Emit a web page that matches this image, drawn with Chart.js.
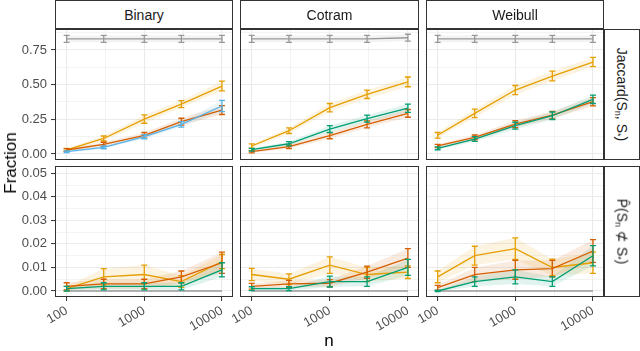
<!DOCTYPE html>
<html>
<head>
<meta charset="utf-8">
<script src="https://cdn.jsdelivr.net/npm/chart.js@4.4.1/dist/chart.umd.min.js"></script>
<style>
  body { margin: 0; background: #fff; }
  #wrap { position: relative; width: 640px; height: 351px; overflow: hidden; font-family: "Liberation Sans", Arial, sans-serif; }
  #wrap canvas { position: absolute; left: 0; top: 0; }
  .strip { position: absolute; box-sizing: border-box; border: 1px solid #333; background: #fff; color: #1a1a1a; font-size: 14px; display: flex; align-items: center; justify-content: center; white-space: nowrap; }
  .strip.side span { transform: rotate(90deg); display: inline-block; }
  .strip sub { font-size: 9px; vertical-align: -2px; }
  .title { position: absolute; color: #000; font-size: 17px; white-space: nowrap; }
</style>
</head>
<body>
<div id="wrap">
  <div class="strip" style="left:55px;top:0;width:178px;height:29px">Binary</div>
  <div class="strip" style="left:240px;top:0;width:179px;height:29px">Cotram</div>
  <div class="strip" style="left:426px;top:0;width:178px;height:29px">Weibull</div>
  <div class="strip side" style="left:604px;top:29px;width:36px;height:131px"><span>Jaccard(S<sub>n</sub>, S<sub>*</sub>)</span></div>
  <div class="strip side" style="left:604px;top:166px;width:36px;height:131px"><span>P&#770;(S<sub>n</sub> &#8836; S<sub>*</sub>)</span></div>
  <div class="title" style="left:11px;top:163px;transform:translate(-50%,-50%) rotate(-90deg)">Fraction</div>
  <div class="title" style="left:329px;top:341px;transform:translate(-50%,-50%)">n</div>
</div>
<script>
// sample sizes and axis breaks
const nSizes = [100, 300, 1000, 3000, 10000];
const xMajorTicks = [100, 1000, 10000];
const xMinorTicks = [316.23, 3162.3];
const jaccardMajorTicks = [0, 0.25, 0.5, 0.75];
const jaccardMinorTicks = [0.125, 0.375, 0.625, 0.875];
const notSubsetMajorTicks = [0, 0.01, 0.02, 0.03, 0.04, 0.05];
const notSubsetMinorTicks = [0.005, 0.015, 0.025, 0.035, 0.045];

// Jaccard(S_n, S*) row
const binaryJaccardGrey = [0.83, 0.83, 0.83, 0.83, 0.83];
const binaryJaccardGreyErr = [0.025, 0.025, 0.025, 0.025, 0.025];
const binaryJaccardOrange = [0.03, 0.112, 0.252, 0.36, 0.49];
const binaryJaccardOrangeErr = [0.01, 0.018, 0.03, 0.025, 0.035];
const binaryJaccardVermillion = [0.029, 0.07, 0.135, 0.233, 0.317];
const binaryJaccardVermillionErr = [0.01, 0.015, 0.02, 0.025, 0.032];
const binaryJaccardBlue = [0.017, 0.048, 0.125, 0.214, 0.346];
const binaryJaccardBlueErr = [0.006, 0.01, 0.015, 0.02, 0.04];

const cotramJaccardGrey = [0.83, 0.83, 0.83, 0.83, 0.838];
const cotramJaccardGreyErr = [0.025, 0.025, 0.025, 0.025, 0.025];
const cotramJaccardOrange = [0.058, 0.168, 0.334, 0.43, 0.52];
const cotramJaccardOrangeErr = [0.015, 0.02, 0.03, 0.03, 0.035];
const cotramJaccardVermillion = [0.017, 0.053, 0.132, 0.214, 0.293];
const cotramJaccardVermillionErr = [0.008, 0.013, 0.022, 0.025, 0.028];
const cotramJaccardGreen = [0.031, 0.074, 0.18, 0.255, 0.33];
const cotramJaccardGreenErr = [0.01, 0.015, 0.025, 0.025, 0.03];

const weibullJaccardGrey = [0.83, 0.83, 0.83, 0.83, 0.83];
const weibullJaccardGreyErr = [0.025, 0.025, 0.025, 0.025, 0.025];
const weibullJaccardOrange = [0.135, 0.293, 0.461, 0.562, 0.663];
const weibullJaccardOrangeErr = [0.02, 0.03, 0.033, 0.035, 0.033];
const weibullJaccardVermillion = [0.058, 0.12, 0.216, 0.281, 0.377];
const weibullJaccardVermillionErr = [0.012, 0.017, 0.025, 0.027, 0.03];
const weibullJaccardGreen = [0.041, 0.108, 0.204, 0.276, 0.394];
const weibullJaccardGreenErr = [0.01, 0.017, 0.025, 0.027, 0.03];

// P(S_n not subset of S*) row
const binaryNotSubsetGrey = [0, 0, 0, 0, 0];
const binaryNotSubsetGreyErr = [0, 0, 0, 0, 0];
const binaryNotSubsetOrange = [0.001, 0.006, 0.007, 0.004, 0.0125];
const binaryNotSubsetOrangeErr = [0.001, 0.0035, 0.004, 0.0025, 0.003];
const binaryNotSubsetVermillion = [0.002, 0.003, 0.003, 0.006, 0.012];
const binaryNotSubsetVermillionErr = [0.0015, 0.002, 0.002, 0.0025, 0.0045];
const binaryNotSubsetGreen = [0.001, 0.002, 0.002, 0.002, 0.009];
const binaryNotSubsetGreenErr = [0.001, 0.0015, 0.0015, 0.0015, 0.003];

const cotramNotSubsetGrey = [0, 0, 0, 0, 0];
const cotramNotSubsetGreyErr = [0, 0, 0, 0, 0];
const cotramNotSubsetOrange = [0.007, 0.005, 0.011, 0.007, 0.008];
const cotramNotSubsetOrangeErr = [0.0026, 0.0023, 0.0035, 0.003, 0.0027];
const cotramNotSubsetVermillion = [0.002, 0.003, 0.0033, 0.008, 0.014];
const cotramNotSubsetVermillionErr = [0.0012, 0.0015, 0.0015, 0.0026, 0.004];
const cotramNotSubsetGreen = [0.001, 0.001, 0.004, 0.004, 0.01];
const cotramNotSubsetGreenErr = [0.0008, 0.0008, 0.0023, 0.002, 0.0034];

const weibullNotSubsetGrey = [0, 0, 0, 0, 0];
const weibullNotSubsetGreyErr = [0, 0, 0, 0, 0];
const weibullNotSubsetOrange = [0.006, 0.015, 0.018, 0.01, 0.012];
const weibullNotSubsetOrangeErr = [0.0025, 0.004, 0.0046, 0.0035, 0.0045];
const weibullNotSubsetVermillion = [0.0014, 0.007, 0.009, 0.0095, 0.017];
const weibullNotSubsetVermillionErr = [0.001, 0.003, 0.004, 0.0035, 0.0048];
const weibullNotSubsetGreen = [0, 0.004, 0.006, 0.004, 0.015];
const weibullNotSubsetGreenErr = [0.0003, 0.002, 0.003, 0.002, 0.0043];

const colours = {
  grey: [153, 153, 153],
  orange: [230, 159, 0],
  vermillion: [213, 94, 0],
  green: [0, 158, 115],
  blue: [86, 180, 233]
};

// panel boxes in page pixels
const colLeft = [55, 240, 426];
const colRight = [233, 419, 604];
const rowTop = [29, 166];
const rowBottom = [160, 297];
const yRange = [[-0.043, 0.901], [-0.00255, 0.0531]];

const panels = [
  { col: 0, row: 0, series: [['grey', binaryJaccardGrey, binaryJaccardGreyErr], ['orange', binaryJaccardOrange, binaryJaccardOrangeErr], ['vermillion', binaryJaccardVermillion, binaryJaccardVermillionErr], ['blue', binaryJaccardBlue, binaryJaccardBlueErr]] },
  { col: 1, row: 0, series: [['grey', cotramJaccardGrey, cotramJaccardGreyErr], ['orange', cotramJaccardOrange, cotramJaccardOrangeErr], ['vermillion', cotramJaccardVermillion, cotramJaccardVermillionErr], ['green', cotramJaccardGreen, cotramJaccardGreenErr]] },
  { col: 2, row: 0, series: [['grey', weibullJaccardGrey, weibullJaccardGreyErr], ['orange', weibullJaccardOrange, weibullJaccardOrangeErr], ['vermillion', weibullJaccardVermillion, weibullJaccardVermillionErr], ['green', weibullJaccardGreen, weibullJaccardGreenErr]] },
  { col: 0, row: 1, series: [['grey', binaryNotSubsetGrey, binaryNotSubsetGreyErr], ['orange', binaryNotSubsetOrange, binaryNotSubsetOrangeErr], ['vermillion', binaryNotSubsetVermillion, binaryNotSubsetVermillionErr], ['green', binaryNotSubsetGreen, binaryNotSubsetGreenErr]] },
  { col: 1, row: 1, series: [['grey', cotramNotSubsetGrey, cotramNotSubsetGreyErr], ['orange', cotramNotSubsetOrange, cotramNotSubsetOrangeErr], ['vermillion', cotramNotSubsetVermillion, cotramNotSubsetVermillionErr], ['green', cotramNotSubsetGreen, cotramNotSubsetGreenErr]] },
  { col: 2, row: 1, series: [['grey', weibullNotSubsetGrey, weibullNotSubsetGreyErr], ['orange', weibullNotSubsetOrange, weibullNotSubsetOrangeErr], ['vermillion', weibullNotSubsetVermillion, weibullNotSubsetVermillionErr], ['green', weibullNotSubsetGreen, weibullNotSubsetGreenErr]] }
];

const rgba = (c, a) => 'rgba(' + colours[c].join(',') + ',' + a + ')';

// error bars drawn right after their line, panel frame on top
const errorBarPlugin = {
  id: 'errorBars',
  afterDatasetDraw(chart, args) {
    const ds = chart.data.datasets[args.index];
    if (!ds.errors) return;
    const ctx = chart.ctx, xs = chart.scales.x, ys = chart.scales.y;
    ctx.save();
    ctx.strokeStyle = ds.borderColor;
    ctx.lineWidth = 1.3;
    ds.data.forEach((pt, i) => {
      const e = ds.errors[i];
      if (!e) return;
      const px = xs.getPixelForValue(pt.x);
      const top = ys.getPixelForValue(pt.y + e), bot = ys.getPixelForValue(pt.y - e);
      ctx.beginPath();
      ctx.moveTo(px, top); ctx.lineTo(px, bot);
      ctx.moveTo(px - 3, top); ctx.lineTo(px + 3, top);
      ctx.moveTo(px - 3, bot); ctx.lineTo(px + 3, bot);
      ctx.stroke();
    });
    ctx.restore();
  }
};
const framePlugin = {
  id: 'frame',
  afterDraw(chart) {
    const a = chart.chartArea, ctx = chart.ctx;
    ctx.save();
    ctx.strokeStyle = '#333333';
    ctx.lineWidth = 1;
    ctx.strokeRect(a.left + 0.5, a.top + 0.5, a.right - a.left - 1, a.bottom - a.top - 1);
    ctx.restore();
  }
};

const wrap = document.getElementById('wrap');
const tickFont = { family: '"Liberation Sans", Arial, sans-serif', size: 13 };

panels.forEach(p => {
  const canvas = document.createElement('canvas');
  canvas.width = 640; canvas.height = 351;
  wrap.insertBefore(canvas, wrap.firstChild);

  const yw = p.col === 0 ? 55 : 0;
  const xh = p.row === 1 ? 54 : 0;
  const majorY = p.row === 0 ? jaccardMajorTicks : notSubsetMajorTicks;
  const minorY = p.row === 0 ? jaccardMinorTicks : notSubsetMinorTicks;

  const datasets = [];
  p.series.forEach(([c, vals, errs]) => {
    datasets.push({ data: nSizes.map((n, i) => ({ x: n, y: vals[i] + errs[i] })), borderWidth: 0, pointRadius: 0, fill: false, order: 100 });
    datasets.push({ data: nSizes.map((n, i) => ({ x: n, y: vals[i] - errs[i] })), borderWidth: 0, pointRadius: 0, fill: '-1', backgroundColor: rgba(c, 0.12), order: 100 });
  });
  p.series.forEach(([c, vals, errs], k) => {
    datasets.push({ data: nSizes.map((n, i) => ({ x: n, y: vals[i] })), errors: errs, borderColor: rgba(c, 1), borderWidth: 1.3, pointRadius: 0, fill: false, tension: 0, order: 50 - k });
  });

  new Chart(canvas, {
    type: 'line',
    data: { datasets },
    plugins: [errorBarPlugin, framePlugin],
    options: {
      responsive: false,
      animation: false,
      devicePixelRatio: 1,
      layout: { padding: { left: colLeft[p.col] - yw, right: 640 - colRight[p.col], top: rowTop[p.row], bottom: 351 - rowBottom[p.row] - xh } },
      plugins: { legend: { display: false }, tooltip: { enabled: false } },
      scales: {
        x: {
          type: 'logarithmic',
          min: 70.8, max: 13870,
          afterBuildTicks: s => { s.ticks = xMajorTicks.concat(xMinorTicks).sort((a, b) => a - b).map(v => ({ value: v })); },
          afterFit: s => { s.height = xh; },
          border: { display: false },
          grid: {
            color: '#EBEBEB',
            lineWidth: c => xMajorTicks.includes(c.tick.value) ? 1.1 : 0.6,
            drawTicks: p.row === 1,
            tickLength: 4,
            tickWidth: 1,
            tickColor: c => xMajorTicks.includes(c.tick.value) ? '#333333' : 'rgba(0,0,0,0)'
          },
          ticks: {
            display: p.row === 1,
            autoSkip: false,
            minRotation: 30, maxRotation: 30,
            padding: 2,
            color: '#4D4D4D',
            font: tickFont,
            callback: v => xMajorTicks.includes(v) ? String(v) : ''
          }
        },
        y: {
          type: 'linear',
          min: yRange[p.row][0], max: yRange[p.row][1],
          afterBuildTicks: s => { s.ticks = majorY.concat(minorY).sort((a, b) => a - b).map(v => ({ value: v })); },
          afterFit: s => { s.width = yw; },
          border: { display: false },
          grid: {
            color: '#EBEBEB',
            lineWidth: c => majorY.includes(c.tick.value) ? 1.1 : 0.6,
            drawTicks: p.col === 0,
            tickLength: 4,
            tickWidth: 1,
            tickColor: c => majorY.includes(c.tick.value) ? '#333333' : 'rgba(0,0,0,0)'
          },
          ticks: {
            display: p.col === 0,
            autoSkip: false,
            padding: 4,
            color: '#4D4D4D',
            font: tickFont,
            callback: v => majorY.includes(v) ? v.toFixed(2) : ''
          }
        }
      }
    }
  });
});
</script>
</body>
</html>
